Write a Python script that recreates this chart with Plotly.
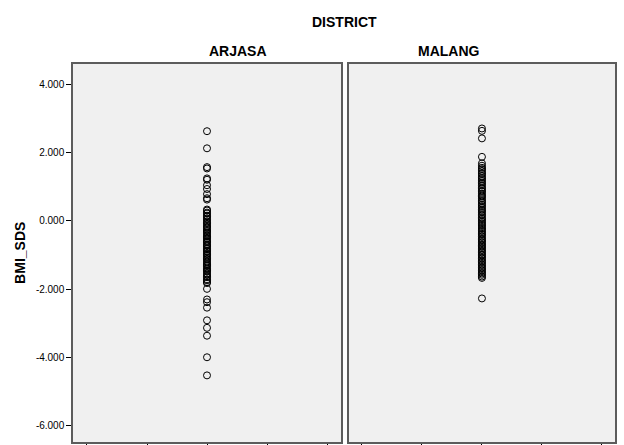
import plotly.graph_objects as go

# BMI_SDS values per district
districts = ["ARJASA", "MALANG"]

arjasa_bmi = [
    2.62, 2.12, 1.57, 1.53, 1.24, 1.20, 1.04, 0.93, 0.78, 0.66, 0.62,
    0.33, 0.30, 0.24, 0.21, 0.15, 0.12, 0.07, 0.03, -0.02, -0.06, -0.09,
    -0.15, -0.18, -0.22, -0.27, -0.30, -0.34, -0.37, -0.43, -0.45, -0.50,
    -0.52, -0.58, -0.61, -0.63, -0.69, -0.72, -0.74, -0.80, -0.83, -0.88,
    -0.90, -0.96, -0.98, -1.02, -1.07, -1.11, -1.13, -1.19, -1.22, -1.27,
    -1.30, -1.33, -1.39, -1.42, -1.46, -1.48, -1.54, -1.57, -1.62, -1.65,
    -1.71, -1.74, -1.79, -1.82,
    -1.99, -2.30, -2.38, -2.54, -2.91, -3.13, -3.36, -3.99, -4.52,
]

malang_bmi = [
    2.70, 2.63, 2.41, 1.87,
    1.68, 1.61, 1.55, 1.51, 1.46, 1.40, 1.37, 1.31, 1.26, 1.22, 1.17,
    1.12, 1.08, 1.03, 0.97, 0.94, 0.88, 0.85, 0.79, 0.74, 0.71, 0.66,
    0.60, 0.57, 0.52, 0.47, 0.43, 0.38, 0.33, 0.29, 0.25, 0.19, 0.16,
    0.10, 0.06, 0.02, -0.03, -0.07, -0.12, -0.15, -0.21, -0.24, -0.29,
    -0.33, -0.38, -0.41, -0.46, -0.51, -0.55, -0.59, -0.63, -0.68, -0.72,
    -0.76, -0.80, -0.85, -0.89, -0.93, -0.98, -1.01, -1.06, -1.10, -1.15,
    -1.19, -1.23, -1.28, -1.32, -1.37, -1.41, -1.45, -1.50, -1.54, -1.58,
    -1.63, -1.67,
    -2.27,
]

y_ticks = [-6, -4, -2, 0, 2, 4]
y_ticktext = ["-6.000", "-4.000", "-2.000", "0.000", "2.000", "4.000"]

x_pos = 2  # SPSS puts the single column in the middle of 5 ticks

marker = dict(symbol="circle-open", size=7, color="black", line=dict(width=1))

fig = go.Figure()
fig.add_trace(go.Scatter(x=[x_pos] * len(arjasa_bmi), y=arjasa_bmi,
                         mode="markers", marker=marker, xaxis="x", yaxis="y",
                         showlegend=False))
fig.add_trace(go.Scatter(x=[x_pos] * len(malang_bmi), y=malang_bmi,
                         mode="markers", marker=marker, xaxis="x2", yaxis="y2",
                         showlegend=False))

frame = dict(showline=True, mirror=True, linecolor="#5c5c5c", linewidth=1.5,
             showgrid=False, zeroline=False, automargin=False)
xax = dict(frame, tickvals=[0, 1, 2, 3, 4], ticks="outside", ticklen=4,
           tickcolor="black", showticklabels=False)
yr = [-6.468, 4.585]

fig.update_layout(
    width=624, height=445,
    margin=dict(l=73, r=9, t=64, b=3, autoexpand=False),
    paper_bgcolor="white",
    plot_bgcolor="#f0f0f0",
    font=dict(family="Arial, Liberation Sans", size=10, color="black"),
    xaxis=dict(xax, domain=[0, 0.4945], range=[-0.233, 4.233], anchor="y"),
    xaxis2=dict(xax, domain=[0.509, 1], range=[-0.217, 4.217], anchor="y2"),
    yaxis=dict(frame, range=yr, tickvals=y_ticks, ticktext=y_ticktext,
               ticks="outside", ticklen=5, tickcolor="black", anchor="x"),
    yaxis2=dict(frame, range=yr, showticklabels=False, ticks="", anchor="x2"),
)

bold = dict(family="Arial, Liberation Sans", size=14, color="black")
fig.add_annotation(text="<b>DISTRICT</b>", x=0.5, y=1.111, xref="paper", yref="paper",
                   showarrow=False, font=bold, yanchor="middle")
for name, xc in zip(districts, [0.247, 0.754]):
    fig.add_annotation(text=f"<b>{name}</b>", x=xc, y=1.034, xref="paper", yref="paper",
                       showarrow=False, font=bold, yanchor="middle")
fig.add_annotation(text="<b>BMI_SDS</b>", x=-0.098, y=0.5, xref="paper", yref="paper",
                   showarrow=False, font=bold, textangle=-90,
                   xanchor="center", yanchor="middle")

# drop the default 8px body margin so the figure fills the window exactly
fig.write_html("out.html", post_script="document.body.style.margin='0';",
               config={"displayModeBar": False})
